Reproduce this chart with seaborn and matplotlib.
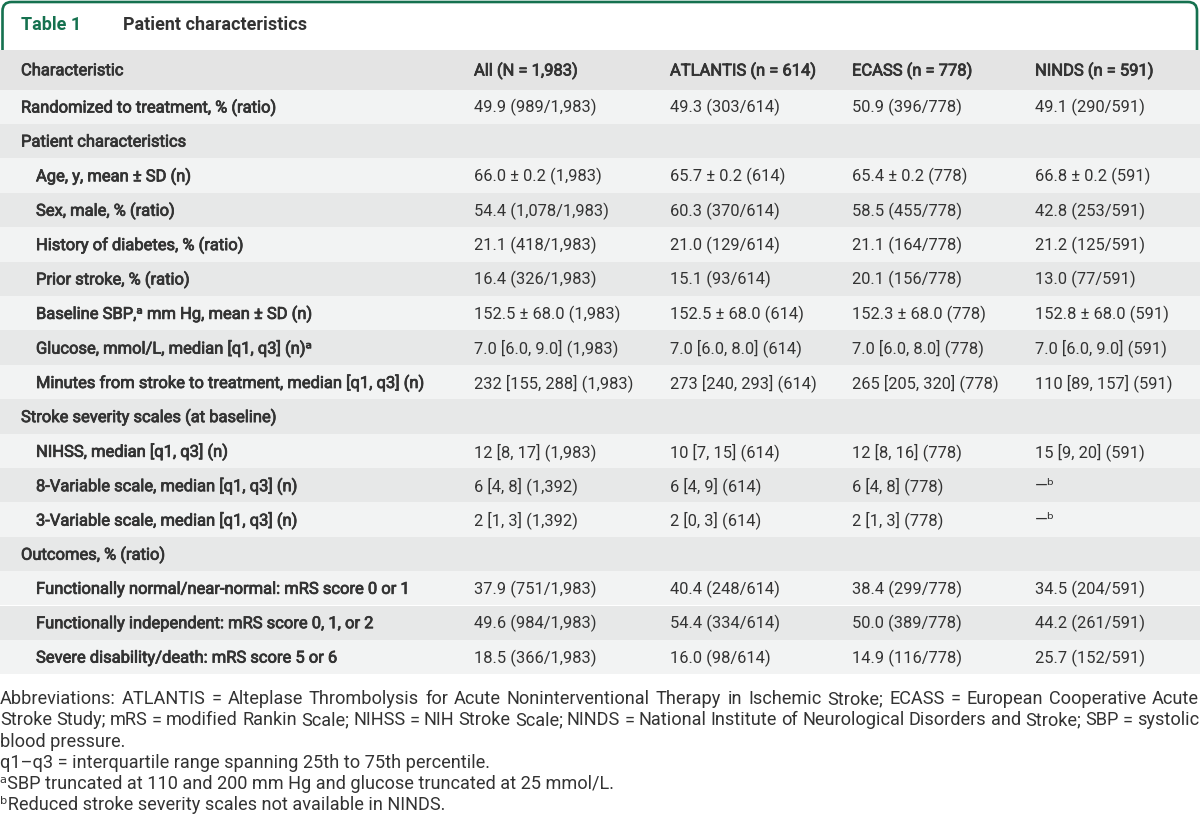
"""
Table 1 - patient characteristics, drawn as a figure with seaborn/matplotlib.
"""

import matplotlib
matplotlib.use("Agg")
import matplotlib.pyplot as plt
import matplotlib.patheffects as pe
import seaborn as sns
from matplotlib.patches import FancyBboxPatch

TABLE_NUM = "Table 1"
TABLE_TITLE = "Patient characteristics"

columns = ["Characteristic", "All (N = 1,983)", "ATLANTIS (n = 614)",
           "ECASS (n = 778)", "NINDS (n = 591)"]

row_labels = [
    "Randomized to treatment, % (ratio)",
    "Patient characteristics",
    "Age, y, mean \u00b1 SD (n)",
    "Sex, male, % (ratio)",
    "History of diabetes, % (ratio)",
    "Prior stroke, % (ratio)",
    "Baseline SBP,\u1d43 mm Hg, mean \u00b1 SD (n)",
    "Glucose, mmol/L, median [q1, q3] (n)\u1d43",
    "Minutes from stroke to treatment, median [q1, q3] (n)",
    "Stroke severity scales (at baseline)",
    "NIHSS, median [q1, q3] (n)",
    "8-Variable scale, median [q1, q3] (n)",
    "3-Variable scale, median [q1, q3] (n)",
    "Outcomes, % (ratio)",
    "Functionally normal/near-normal: mRS score 0 or 1",
    "Functionally independent: mRS score 0, 1, or 2",
    "Severe disability/death: mRS score 5 or 6",
]
row_indent = [0, 0, 1, 1, 1, 1, 1, 1, 1, 0, 1, 1, 1, 0, 1, 1, 1]

all_vals = [
    "49.9 (989/1,983)", "",
    "66.0 \u00b1 0.2 (1,983)", "54.4 (1,078/1,983)", "21.1 (418/1,983)",
    "16.4 (326/1,983)", "152.5 \u00b1 68.0 (1,983)", "7.0 [6.0, 9.0] (1,983)",
    "232 [155, 288] (1,983)", "",
    "12 [8, 17] (1,983)", "6 [4, 8] (1,392)", "2 [1, 3] (1,392)", "",
    "37.9 (751/1,983)", "49.6 (984/1,983)", "18.5 (366/1,983)",
]
atlantis_vals = [
    "49.3 (303/614)", "",
    "65.7 \u00b1 0.2 (614)", "60.3 (370/614)", "21.0 (129/614)",
    "15.1 (93/614)", "152.5 \u00b1 68.0 (614)", "7.0 [6.0, 8.0] (614)",
    "273 [240, 293] (614)", "",
    "10 [7, 15] (614)", "6 [4, 9] (614)", "2 [0, 3] (614)", "",
    "40.4 (248/614)", "54.4 (334/614)", "16.0 (98/614)",
]
ecass_vals = [
    "50.9 (396/778)", "",
    "65.4 \u00b1 0.2 (778)", "58.5 (455/778)", "21.1 (164/778)",
    "20.1 (156/778)", "152.3 \u00b1 68.0 (778)", "7.0 [6.0, 8.0] (778)",
    "265 [205, 320] (778)", "",
    "12 [8, 16] (778)", "6 [4, 8] (778)", "2 [1, 3] (778)", "",
    "38.4 (299/778)", "50.0 (389/778)", "14.9 (116/778)",
]
ninds_vals = [
    "49.1 (290/591)", "",
    "66.8 \u00b1 0.2 (591)", "42.8 (253/591)", "21.2 (125/591)",
    "13.0 (77/591)", "152.8 \u00b1 68.0 (591)", "7.0 [6.0, 9.0] (591)",
    "110 [89, 157] (591)", "",
    "15 [9, 20] (591)", "\u2014\u1d47", "\u2014\u1d47", "",
    "34.5 (204/591)", "44.2 (261/591)", "25.7 (152/591)",
]

footnote_lines = [
    "Abbreviations: ATLANTIS = Alteplase Thrombolysis for Acute Noninterventional "
    "Therapy in Ischemic Stroke; ECASS = European Cooperative Acute",
    "Stroke Study; mRS = modified Rankin Scale; NIHSS = NIH Stroke Scale; NINDS = "
    "National Institute of Neurological Disorders and Stroke; SBP = systolic",
    "blood pressure.",
    "q1\u2013q3 = interquartile range spanning 25th to 75th percentile.",
    "\u1d43SBP truncated at 110 and 200 mm Hg and glucose truncated at 25 mmol/L.",
    "\u1d47Reduced stroke severity scales not available in NINDS.",
]
justified_lines = [0, 1]

GREEN = "#15714f"
TEXT = "#333333"
HEADER_BG = "#e4e4e4"
LIGHT_BG = "#f2f3f3"
DARK_BG = "#e7e8e8"

sns.set_theme(style="white")
plt.rcParams["font.family"] = ["Roboto", "DejaVu Sans"]

W, H = 1200, 824
fig = plt.figure(figsize=(W / 100, H / 100), dpi=100)
ax = fig.add_axes([0, 0, 1, 1])
ax.set_xlim(0, W)
ax.set_ylim(H, 0)
ax.axis("off")

# a light stroke gives the "medium" weight of the label column
medium = [pe.withStroke(linewidth=0.55, foreground=TEXT)]

# title tab with the green rounded frame
frame = FancyBboxPatch((2.5, 2), 1194.5, 80,
                       boxstyle="round,pad=0,rounding_size=9",
                       facecolor="white", edgecolor=GREEN, lw=1.9, zorder=1)
ax.add_patch(frame)
ax.text(21, 25, TABLE_NUM, color=GREEN, fontsize=13, fontweight="bold",
        va="center", zorder=5)
ax.text(123, 25, TABLE_TITLE, color=TEXT, fontsize=13, fontweight="bold",
        va="center", zorder=5)

# header row + striped body
top, header_h, row_h = 50, 39.5, 34.4
col_x = [21, 474, 670, 852, 1035]
body_size = 11.9

ax.axhspan(top, top + header_h, color=HEADER_BG, lw=0, zorder=2)
for cx, name in zip(col_x, columns):
    ax.text(cx, top + header_h / 2 + 1, name, color=TEXT, fontsize=body_size,
            va="center", zorder=5, path_effects=medium)

y0 = top + header_h
for i, label in enumerate(row_labels):
    ya = y0 + i * row_h
    ax.axhspan(ya, ya + row_h, color=LIGHT_BG if i % 2 == 0 else DARK_BG,
               lw=0, zorder=2)
    yc = ya + row_h / 2 + 1
    ax.text(col_x[0] + 15 * row_indent[i], yc, label, color=TEXT,
            fontsize=body_size, va="center", zorder=5, path_effects=medium)
    for cx, vals in zip(col_x[1:], [all_vals, atlantis_vals, ecass_vals, ninds_vals]):
        if vals[i]:
            ax.text(cx, yc, vals[i], color=TEXT, fontsize=body_size,
                    va="center", zorder=5)

# footnotes, first two lines justified to the full width
foot_kw = dict(color=TEXT, fontsize=13.1, va="center", zorder=5)
renderer = fig.canvas.get_renderer()
foot_y = 699
for k, line in enumerate(footnote_lines):
    y = foot_y + k * 21.3
    if k in justified_lines:
        words = line.split(" ")
        widths = []
        for w in words:
            t = ax.text(0, y, w, **foot_kw)
            widths.append(t.get_window_extent(renderer).width)
            t.remove()
        gap = (W - 1 - sum(widths)) / (len(words) - 1)
        x = 0
        for w, wd in zip(words, widths):
            ax.text(x, y, w, **foot_kw)
            x += wd + gap
    else:
        ax.text(0, y, line, **foot_kw)

fig.savefig("out.png", dpi=100)
